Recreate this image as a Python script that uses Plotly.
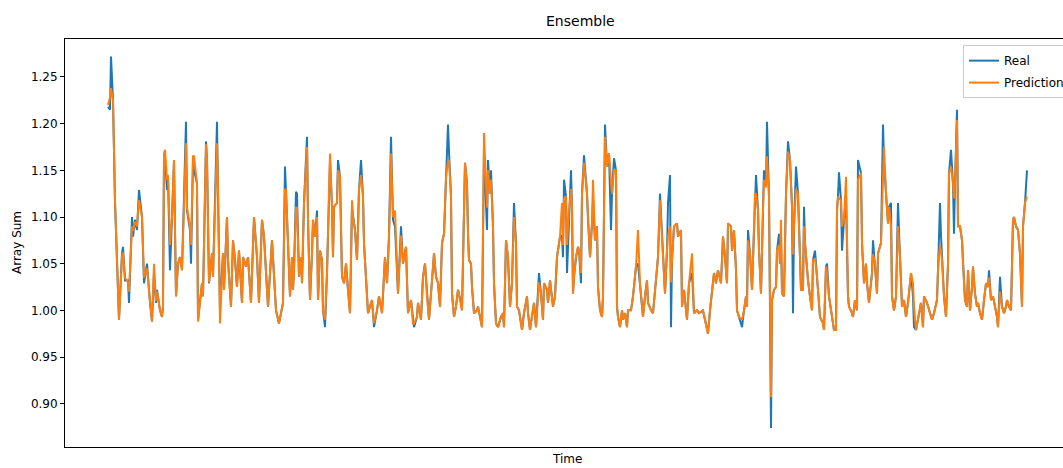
import plotly.graph_objects as go

# time step (index) of each sampled point
time = [0, 2, 3, 5, 7, 9, 11, 14, 15, 17, 20, 21, 24, 25, 27, 29, 31, 34, 35, 36,
        39, 40, 42, 44, 46, 48, 49, 52, 54, 55, 56, 57, 59, 60, 61, 62, 64, 66, 68, 70,
        72, 74, 78, 79, 82, 83, 85, 86, 89, 90, 94, 95, 98, 99, 101, 104, 105, 109, 110, 112,
        115, 116, 119, 120, 123, 125, 127, 129, 131, 134, 135, 138, 140, 143, 146, 149, 151, 154, 156, 160,
        164, 166, 168, 171, 175, 177, 178, 180, 182, 184, 185, 186, 188, 189, 190, 191, 193, 194, 196, 199,
        200, 202, 204, 205, 207, 209, 210, 212, 214, 215, 217, 219, 222, 224, 225, 226, 229, 230, 232, 234,
        236, 238, 240, 242, 244, 245, 247, 249, 250, 251, 253, 255, 256, 259, 260, 264, 266, 269, 271, 274,
        276, 277, 279, 281, 283, 285, 287, 289, 290, 293, 295, 298, 300, 303, 305, 306, 309, 310, 313, 315,
        317, 319, 321, 324, 326, 328, 330, 332, 334, 336, 338, 340, 341, 343, 344, 346, 348, 350, 353, 354,
        357, 359, 360, 361, 363, 364, 366, 369, 370, 373, 374, 376, 378, 379, 380, 382, 383, 385, 386, 388,
        390, 393, 395, 396, 398, 400, 402, 404, 406, 408, 409, 411, 414, 416, 419, 420, 422, 424, 426, 428,
        431, 433, 435, 436, 439, 440, 442, 445, 447, 449, 452, 454, 455, 456, 458, 459, 461, 463, 464, 465,
        466, 468, 470, 471, 473, 474, 476, 479, 480, 482, 484, 485, 487, 489, 490, 492, 494, 495, 497, 499,
        501, 503, 504, 506, 508, 509, 510, 512, 514, 515, 517, 519, 520, 523, 525, 528, 530, 532, 534, 535,
        537, 539, 540, 543, 545, 547, 549, 550, 552, 554, 555, 557, 559, 560, 562, 563, 564, 566, 569, 570,
        573, 574, 576, 579, 581, 584, 586, 589, 591, 595, 597, 600, 602, 604, 606, 608, 610, 613, 615, 617,
        619, 620, 623, 624, 626, 628, 629, 631, 634, 636, 638, 639, 640, 642, 644, 645, 647, 648, 650, 651,
        653, 655, 656, 658, 659, 661, 662, 663, 664, 666, 668, 669, 671, 672, 673, 674, 676, 678, 680, 682,
        684, 685, 686, 688, 690, 691, 693, 695, 696, 697, 699, 700, 702, 704, 705, 707, 709, 710, 712, 715,
        716, 718, 719, 721, 724, 726, 728, 729, 730, 731, 733, 734, 736, 738, 740, 741, 744, 745, 747, 749,
        750, 753, 754, 756, 758, 759, 761, 764, 765, 767, 769, 770, 773, 775, 776, 778, 780, 781, 783, 784,
        786, 788, 790, 792, 794, 796, 798, 800, 803, 805, 806, 808, 810, 813, 815, 816, 819, 821, 824, 826,
        829, 830, 832, 833, 834, 836, 838, 840, 841, 843, 845, 846, 847, 849, 850, 852, 854, 855, 857, 859,
        860, 862, 864, 865, 867, 869, 870, 872, 874, 876, 878, 880, 881, 883, 885, 887, 889, 890, 892, 894,
        896, 898, 899, 901, 903, 905, 906, 908, 910, 912, 914, 915, 917, 919]

real = [1.218, 1.215, 1.272, 1.225, 1.116, 1.050, 0.990, 1.061, 1.068, 1.032, 1.032, 1.008, 1.100, 1.079, 1.097, 1.086, 1.129, 1.100, 1.068, 1.029,
        1.050, 1.032, 1.008, 0.988, 1.040, 1.008, 1.022, 1.000, 0.993, 1.004, 1.160, 1.165, 1.129, 1.143, 1.100, 1.043, 1.100, 1.160, 1.015, 1.050,
        1.057, 1.043, 1.202, 1.107, 1.086, 1.050, 1.160, 1.150, 1.136, 0.990, 1.029, 1.015, 1.181, 1.161, 1.029, 1.061, 1.036, 1.202, 1.125, 1.000,
        1.061, 1.022, 1.100, 1.054, 1.004, 1.075, 1.054, 1.025, 1.064, 1.008, 1.057, 1.047, 1.057, 1.008, 1.100, 1.057, 1.008, 1.097, 1.079, 1.004,
        1.075, 1.036, 1.000, 0.986, 1.008, 1.154, 1.130, 1.072, 1.015, 1.057, 1.022, 1.043, 1.127, 1.125, 1.079, 1.036, 1.057, 1.029, 1.115, 1.186,
        1.097, 1.011, 1.061, 1.097, 1.079, 1.107, 1.011, 1.064, 1.054, 1.000, 0.982, 1.040, 1.160, 1.111, 1.057, 1.111, 1.115, 1.161, 1.143, 1.036,
        1.029, 1.050, 1.022, 0.997, 1.110, 1.100, 1.086, 1.054, 1.086, 1.129, 1.161, 1.122, 1.072, 1.008, 0.997, 1.011, 0.982, 1.000, 1.015, 0.997,
        1.050, 1.057, 1.029, 1.079, 1.186, 1.097, 1.090, 1.040, 1.018, 1.090, 1.050, 1.068, 0.997, 1.011, 0.986, 0.982, 0.993, 1.008, 0.990, 1.036,
        1.050, 1.015, 0.990, 1.032, 1.061, 1.036, 1.029, 1.004, 1.072, 1.082, 1.143, 1.199, 1.170, 1.122, 1.018, 0.993, 1.004, 1.022, 1.008, 1.000,
        1.158, 1.136, 1.082, 1.054, 1.050, 1.025, 0.997, 1.000, 1.004, 0.986, 0.982, 1.170, 1.125, 1.086, 1.161, 1.125, 1.150, 1.090, 1.029, 0.986,
        0.982, 0.993, 0.997, 0.982, 1.075, 1.057, 1.004, 1.029, 1.115, 1.072, 1.004, 1.000, 0.979, 0.997, 1.015, 0.997, 0.979, 0.993, 1.008, 0.982,
        1.040, 1.018, 0.990, 1.029, 1.022, 1.008, 1.032, 1.004, 1.015, 1.057, 1.079, 1.080, 1.057, 1.140, 1.122, 1.040, 1.107, 1.150, 1.111, 1.018,
        1.036, 1.057, 1.068, 1.064, 1.029, 1.125, 1.166, 1.125, 1.097, 1.057, 1.093, 1.120, 1.075, 1.090, 1.025, 1.000, 0.993, 1.015, 1.199, 1.154,
        1.168, 1.086, 1.125, 1.163, 1.150, 1.004, 0.993, 0.982, 1.000, 0.990, 0.997, 0.982, 1.000, 1.000, 1.015, 1.047, 1.050, 1.029, 1.008, 0.993,
        1.015, 1.032, 1.008, 1.000, 0.997, 1.018, 1.040, 1.057, 1.125, 1.082, 1.057, 1.018, 1.064, 1.115, 1.145, 0.982, 1.054, 1.090, 1.093, 1.079,
        1.086, 1.004, 1.022, 0.990, 1.029, 1.040, 0.997, 1.000, 0.997, 1.000, 0.990, 0.975, 1.000, 1.022, 1.040, 1.029, 1.043, 1.029, 1.079, 1.057,
        1.029, 1.093, 1.090, 1.064, 1.086, 1.043, 1.000, 0.993, 0.982, 1.000, 1.015, 1.004, 1.086, 1.061, 1.022, 1.054, 1.125, 1.145, 1.107, 1.064,
        1.018, 1.111, 1.150, 1.132, 1.202, 1.122, 1.000, 0.874, 1.011, 1.022, 1.025, 1.064, 1.082, 1.050, 1.080, 1.018, 1.015, 1.125, 1.181, 1.161,
        1.111, 0.997, 1.090, 1.154, 1.125, 1.090, 1.022, 1.022, 1.111, 1.072, 1.043, 1.032, 1.015, 1.000, 1.054, 1.064, 1.036, 1.022, 0.993, 0.986,
        0.979, 1.047, 1.050, 1.015, 0.993, 0.979, 0.979, 1.107, 1.122, 1.148, 1.118, 1.064, 1.097, 1.120, 1.015, 1.004, 0.997, 0.993, 1.011, 1.000,
        1.161, 1.147, 1.072, 1.029, 1.050, 1.029, 1.008, 1.040, 1.075, 1.050, 1.018, 1.061, 1.072, 1.199, 1.160, 1.125, 1.093, 1.111, 1.115, 1.015,
        1.000, 1.015, 1.115, 1.057, 1.004, 1.011, 0.993, 1.008, 1.040, 1.015, 0.982, 0.979, 0.990, 1.008, 0.982, 1.015, 1.008, 1.000, 0.990, 0.997,
        1.011, 1.043, 1.115, 1.080, 1.054, 1.015, 0.993, 1.050, 1.147, 1.172, 1.136, 1.082, 1.136, 1.215, 1.090, 1.090, 1.075, 1.050, 1.011, 1.004,
        1.043, 1.000, 1.025, 1.047, 1.018, 1.004, 1.008, 0.997, 0.990, 1.011, 1.029, 1.025, 1.043, 1.011, 1.015, 1.004, 0.993, 0.982, 1.036, 1.004,
        0.997, 1.004, 1.011, 1.004, 1.000, 1.097, 1.100, 1.090, 1.086, 1.061, 1.004, 1.090, 1.115, 1.150]

pred = [1.220, 1.228, 1.238, 1.225, 1.118, 1.050, 0.990, 1.058, 1.062, 1.035, 1.030, 1.020, 1.090, 1.085, 1.095, 1.090, 1.118, 1.100, 1.075, 1.035,
        1.045, 1.035, 1.010, 0.988, 1.050, 1.010, 1.020, 1.000, 0.993, 1.004, 1.168, 1.172, 1.140, 1.145, 1.110, 1.070, 1.100, 1.161, 1.015, 1.050,
        1.057, 1.043, 1.179, 1.110, 1.090, 1.070, 1.165, 1.165, 1.136, 0.988, 1.029, 1.015, 1.178, 1.161, 1.030, 1.061, 1.036, 1.179, 1.130, 0.986,
        1.061, 1.022, 1.100, 1.054, 1.004, 1.075, 1.054, 1.025, 1.064, 1.008, 1.057, 1.047, 1.057, 1.008, 1.100, 1.057, 1.008, 1.097, 1.079, 1.004,
        1.075, 1.036, 1.000, 0.986, 1.008, 1.130, 1.129, 1.072, 1.015, 1.057, 1.022, 1.043, 1.110, 1.110, 1.079, 1.036, 1.057, 1.029, 1.115, 1.175,
        1.097, 1.011, 1.061, 1.097, 1.079, 1.100, 1.011, 1.064, 1.054, 1.000, 0.990, 1.040, 1.168, 1.111, 1.057, 1.111, 1.115, 1.150, 1.143, 1.036,
        1.029, 1.050, 1.022, 0.997, 1.118, 1.100, 1.086, 1.054, 1.086, 1.129, 1.145, 1.122, 1.072, 1.008, 0.997, 1.011, 0.986, 1.000, 1.015, 0.997,
        1.050, 1.057, 1.029, 1.079, 1.168, 1.100, 1.107, 1.040, 1.018, 1.080, 1.050, 1.068, 0.997, 1.011, 0.986, 0.986, 0.993, 1.008, 0.990, 1.036,
        1.050, 1.015, 0.990, 1.032, 1.061, 1.036, 1.029, 1.004, 1.072, 1.082, 1.143, 1.160, 1.161, 1.122, 1.018, 0.993, 1.004, 1.022, 1.008, 1.000,
        1.158, 1.136, 1.082, 1.054, 1.050, 1.025, 0.997, 1.000, 1.004, 0.986, 0.982, 1.190, 1.125, 1.110, 1.150, 1.125, 1.140, 1.090, 1.029, 0.986,
        0.982, 0.993, 0.997, 0.982, 1.075, 1.057, 1.004, 1.029, 1.100, 1.072, 1.004, 1.000, 0.979, 0.997, 1.015, 0.997, 0.979, 0.993, 1.008, 0.982,
        1.030, 1.018, 0.990, 1.029, 1.022, 1.008, 1.032, 1.004, 1.015, 1.057, 1.079, 1.115, 1.070, 1.120, 1.122, 1.070, 1.107, 1.130, 1.111, 1.018,
        1.036, 1.057, 1.068, 1.064, 1.040, 1.125, 1.158, 1.125, 1.097, 1.057, 1.093, 1.140, 1.075, 1.090, 1.025, 1.000, 0.993, 1.015, 1.186, 1.154,
        1.168, 1.130, 1.125, 1.150, 1.150, 1.004, 0.993, 0.982, 1.000, 0.990, 0.997, 0.982, 1.000, 1.000, 1.015, 1.047, 1.086, 1.029, 1.008, 0.993,
        1.015, 1.032, 1.008, 1.000, 0.997, 1.018, 1.040, 1.057, 1.118, 1.082, 1.057, 1.018, 1.064, 1.080, 1.090, 1.030, 1.054, 1.090, 1.093, 1.079,
        1.086, 1.004, 1.022, 0.990, 1.029, 1.061, 0.997, 1.000, 0.997, 1.000, 0.990, 0.975, 1.000, 1.022, 1.040, 1.029, 1.043, 1.029, 1.079, 1.057,
        1.029, 1.093, 1.090, 1.064, 1.086, 1.043, 1.000, 0.993, 0.990, 1.000, 1.015, 1.004, 1.075, 1.061, 1.022, 1.054, 1.125, 1.125, 1.107, 1.064,
        1.018, 1.111, 1.140, 1.132, 1.165, 1.122, 1.000, 0.907, 1.011, 1.022, 1.025, 1.064, 1.070, 1.050, 1.097, 1.018, 1.015, 1.125, 1.170, 1.161,
        1.111, 1.060, 1.090, 1.130, 1.125, 1.090, 1.022, 1.022, 1.090, 1.072, 1.043, 1.032, 1.015, 1.000, 1.054, 1.055, 1.036, 1.022, 0.993, 0.986,
        0.979, 1.047, 1.040, 1.015, 0.993, 0.979, 0.979, 1.107, 1.122, 1.120, 1.118, 1.090, 1.097, 1.143, 1.015, 1.004, 0.997, 0.993, 1.011, 1.000,
        1.140, 1.147, 1.072, 1.029, 1.050, 1.029, 1.008, 1.040, 1.060, 1.050, 1.018, 1.061, 1.072, 1.160, 1.175, 1.125, 1.093, 1.111, 1.090, 1.015,
        1.000, 1.015, 1.090, 1.057, 1.004, 1.011, 0.993, 1.008, 1.040, 1.029, 1.004, 0.979, 0.990, 1.008, 0.982, 1.015, 1.008, 1.000, 0.990, 0.997,
        1.011, 1.043, 1.070, 1.064, 1.054, 1.015, 0.993, 1.050, 1.147, 1.154, 1.136, 1.120, 1.136, 1.204, 1.090, 1.090, 1.075, 1.050, 1.011, 1.004,
        1.043, 1.000, 1.025, 1.047, 1.018, 1.004, 1.008, 0.997, 0.990, 1.011, 1.029, 1.025, 1.035, 1.011, 1.015, 1.004, 0.993, 0.982, 1.020, 1.004,
        0.997, 1.004, 1.011, 1.004, 1.000, 1.097, 1.100, 1.090, 1.086, 1.061, 1.004, 1.090, 1.115, 1.122]

yticks = [0.90, 0.95, 1.00, 1.05, 1.10, 1.15, 1.20, 1.25]
ytick_labels = [f"{v:.2f}" for v in yticks]

FONT = "DejaVu Sans"

fig = go.Figure()
fig.add_trace(go.Scatter(x=time, y=real, mode="lines", name="Real", legendgroup="real",
                         line=dict(color="#1f77b4", width=2)))
fig.add_trace(go.Scatter(x=time, y=pred, mode="lines", name="Prediction", legendgroup="pred",
                         line=dict(color="#ff7f0e", width=2)))

fig.update_layout(
    width=1063, height=468,
    margin=dict(l=65, r=0, t=39, b=21, pad=0, autoexpand=False),
    paper_bgcolor="white", plot_bgcolor="white",
    font=dict(family=FONT, size=12, color="#000000"),
    showlegend=True,
    legend=dict(x=0.8998, y=0.985, xanchor="left", yanchor="top",
                bgcolor="rgba(255,255,255,0.8)", bordercolor="#cccccc", borderwidth=1,
                font=dict(family=FONT, size=12, color="#000000"),
                traceorder="grouped", tracegroupgap=3),
    xaxis=dict(range=[-43, 955], showgrid=False, zeroline=False,
               showticklabels=False, ticks="",
               showline=True, linecolor="black", linewidth=1, mirror=True),
    yaxis=dict(range=[0.8536, 1.2907], showgrid=False, zeroline=False,
               tickmode="array", tickvals=yticks, ticktext=ytick_labels,
               ticks="outside", ticklen=4, tickcolor="black", tickwidth=1,
               tickfont=dict(family=FONT, size=12, color="#000000"),
               showline=True, linecolor="black", linewidth=1, mirror=False),
    annotations=[
        dict(text="Ensemble", xref="paper", yref="paper", x=0.517, y=1.0, yshift=18,
             xanchor="center", yanchor="middle", showarrow=False,
             font=dict(family=FONT, size=14, color="#000000")),
        dict(text="Time", xref="paper", yref="paper", x=0.503, y=0, yshift=-12,
             xanchor="center", yanchor="middle", showarrow=False,
             font=dict(family=FONT, size=12, color="#000000")),
        dict(text="Array Sum", xref="paper", yref="paper", x=0, xshift=-48, y=0.5,
             xanchor="center", yanchor="middle", textangle=-90, showarrow=False,
             font=dict(family=FONT, size=12, color="#000000")),
    ],
)

fig.write_html("out.html")
